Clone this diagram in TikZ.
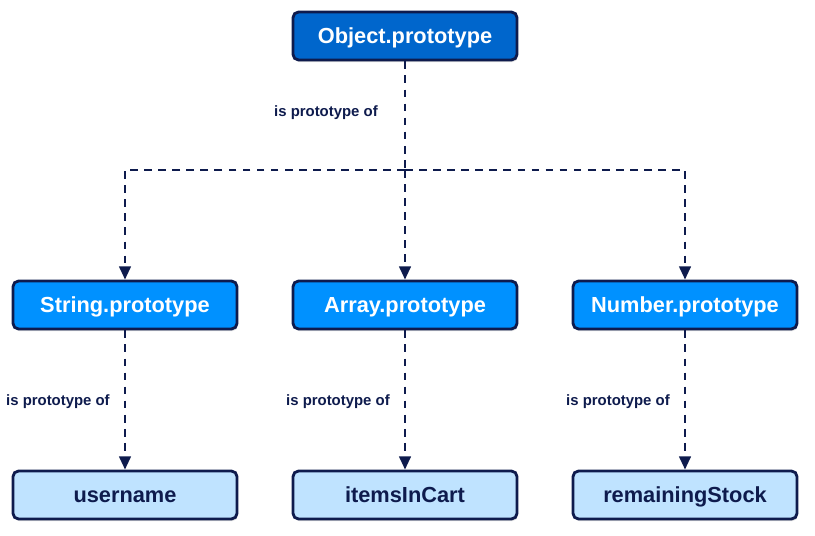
\documentclass[tikz,border=0pt]{standalone}
\usepackage{fontspec}
\setmainfont{Liberation Sans}
\usetikzlibrary{positioning,arrows.meta,shadows}
\definecolor{navy}{RGB}{14,27,77}
\definecolor{rootblue}{RGB}{0,102,204}
\definecolor{protoblue}{RGB}{0,145,255}
\definecolor{leafblue}{RGB}{191,227,255}

\begin{document}
\begin{tikzpicture}[
    x=0.025cm, y=-0.025cm,
    box/.style={
        draw=navy,
        line width=2pt,
        rounded corners=4pt,
        minimum width=5.6cm,
        minimum height=1.2cm,
        text height=11pt,
        text depth=0pt,
        align=center,
        font=\bfseries\fontsize{15.5}{17}\selectfont,
        drop shadow={opacity=0.25, shadow xshift=0.6pt, shadow yshift=-1.5pt}
    },
    rootbox/.style={box, fill=rootblue, text=white},
    protobox/.style={box, fill=protoblue, text=white},
    leafbox/.style={box, fill=leafblue, text=navy},
    link/.style={
        draw=navy,
        line width=1.7pt,
        dash pattern=on 5.5pt off 4.5pt
    },
    arr/.style={
        link,
        -{Triangle[length=3.3mm, width=2.9mm]}
    },
    lbl/.style={
        font=\bfseries\fontsize{10.6}{12}\selectfont,
        text=navy,
        inner sep=0pt,
        anchor=east
    }
]
\useasboundingbox (0,0) rectangle (815,536);

\node[rootbox] (object) at (405,36) {Object.prototype};

\node[protobox] (string) at (125,305) {String.prototype};
\node[protobox] (array) at (405,305) {Array.prototype};
\node[protobox] (number) at (685,305) {Number.prototype};

\node[leafbox] (username) at (125,495) {username};
\node[leafbox] (items) at (405,495) {itemsInCart};
\node[leafbox] (stock) at (685,495) {remainingStock};

\coordinate (split) at (405,170);

\draw[link] (object) -- (split);
\draw[arr] (split) -| (string);
\draw[arr] (split) -- (array);
\draw[arr] (split) -| (number);

\draw[arr] (string) -- (username);
\draw[arr] (array) -- (items);
\draw[arr] (number) -- (stock);

\node[lbl] (lobject) at (378,113) {is prototype of};
\node[lbl] (lstring) at (110,402) {is prototype of};
\node[lbl] (larray) at (390,402) {is prototype of};
\node[lbl] (lnumber) at (670,402) {is prototype of};

\end{tikzpicture}
\end{document}
